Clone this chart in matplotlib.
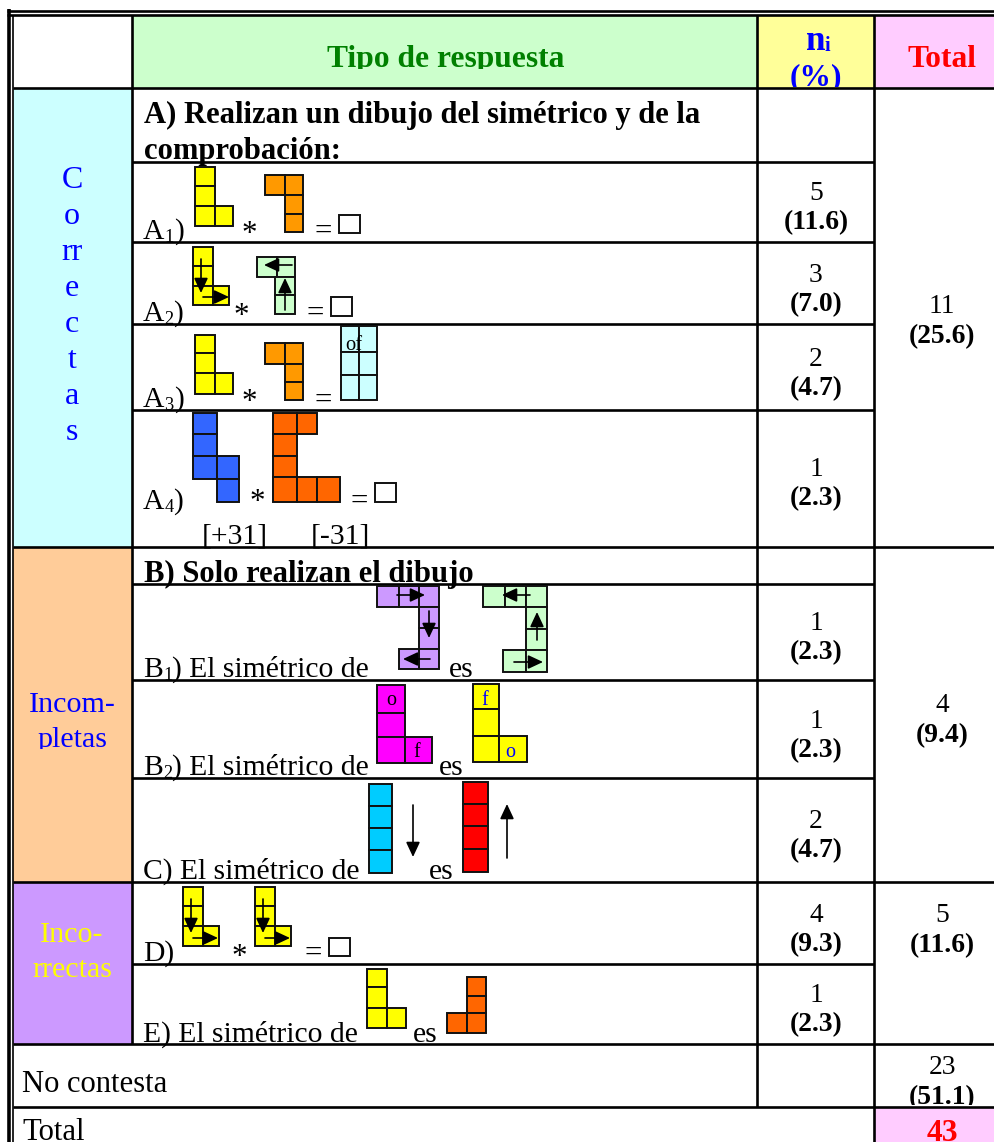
#!/usr/bin/env python3
"""
Tabla de tipos de respuesta (simetricos de piezas) dibujada con matplotlib
"""

import matplotlib
matplotlib.use('Agg')
import matplotlib.pyplot as plt
import matplotlib.patches as patches

plt.rcParams['font.family'] = ['Liberation Serif', 'DejaVu Serif']

# valores de la tabla
header_tipo = 'Tipo de respuesta'
groups = ['Correctas', 'Incom-\npletas', 'Inco-\nrrectas']
ni_values = [5, 3, 2, 1, 1, 1, 2, 4, 1]
ni_pct = [11.6, 7.0, 4.7, 2.3, 2.3, 2.3, 4.7, 9.3, 2.3]
total_values = [11, 4, 5, 23]
total_pct = [25.6, 9.4, 11.6, 51.1]
grand_total = 43

# baselines (pixeles) de cada fila de numeros
ni_base = [200, 282, 366, 476, 630, 728, 828, 922, 1002]
total_base = [313, 712, 922, 1074]

# formas de las piezas: (columna, fila)
L_UP = [(0, 0), (0, 1), (0, 2), (1, 2)]
J_TOP = [(0, 0), (1, 0), (1, 1), (1, 2)]
J_BOTTOM = [(1, 0), (1, 1), (0, 2), (1, 2)]
BAR = [(0, 0), (0, 1), (0, 2), (0, 3)]
S_LONG = [(0, 0), (0, 1), (0, 2), (1, 2), (1, 3)]
C_LONG = [(0, 0), (1, 0), (0, 1), (0, 2), (0, 3), (1, 3), (2, 3)]
C_TOP = [(0, 0), (1, 0), (2, 0), (2, 1), (2, 2), (2, 3), (1, 3)]
BLOCK = [(0, 0), (1, 0), (0, 1), (1, 1), (0, 2), (1, 2)]

YELLOW = '#FFFF00'
ORANGE = '#FF9900'
DARK_ORANGE = '#FF6600'
BLUE = '#3366FF'
MAGENTA = '#FF00FF'
SKY = '#00CCFF'
RED = '#FF0000'
LILAC = '#CC99FF'
MINT = '#CCFFCC'
AQUA = '#CCFFFF'
BODY_PX = 29.6
BOLD_PX = 30.7
HEAD_PX = 31.5
NUM_PX = 27.5


def px(size):
    # tamano en pixeles -> puntos (dpi 100)
    return size * 0.72


fig = plt.figure(figsize=(9.95, 11.42), dpi=100)
ax = fig.add_axes([0, 0, 1, 1])
ax.set_xlim(0, 995)
ax.set_ylim(1142, 0)
ax.axis('off')


def fill(x0, y0, x1, y1, color):
    ax.add_patch(patches.Rectangle((x0, y0), x1 - x0, y1 - y0, facecolor=color,
                                   edgecolor='none', zorder=1))


def hline(y, x0, x1, lw=1.9):
    ax.plot([x0, x1], [y, y], color='black', lw=lw, solid_capstyle='butt', zorder=2)


def vline(x, y0, y1, lw=1.9):
    ax.plot([x, x], [y0, y1], color='black', lw=lw, solid_capstyle='butt', zorder=2)


def text(x, y, s, size=BODY_PX, color='black', bold=False, ha='left', clip=None):
    t = ax.text(x, y, s, fontsize=px(size), color=color, ha=ha, va='baseline',
                fontweight='bold' if bold else 'normal', zorder=6)
    if clip:
        x0, y0, x1, y1 = clip
        t.set_clip_on(True)
        t.set_clip_path(patches.Rectangle((x0, y0), x1 - x0, y1 - y0,
                                          transform=ax.transData))
    return t


def label(x, y, first, sub, rest):
    # texto con subindice, p.ej. A1)
    r = fig.canvas.get_renderer()
    t = text(x, y, first)
    x += t.get_window_extent(r).width
    t = text(x, y + 3, sub, size=BODY_PX * 0.62)
    x += t.get_window_extent(r).width
    text(x, y, rest)


def piece(xs, ys, cells, color):
    for c, r in cells:
        ax.add_patch(patches.Rectangle((xs[c], ys[r]), xs[c + 1] - xs[c], ys[r + 1] - ys[r],
                                       facecolor=color, edgecolor='#111111', lw=1.4, zorder=3))


def arrow(x0, y0, x1, y1):
    ax.add_patch(patches.FancyArrowPatch((x0, y0), (x1, y1),
                                         arrowstyle='-|>,head_length=0.9,head_width=0.42',
                                         mutation_scale=10, shrinkA=0, shrinkB=0,
                                         color='black', lw=1.2, zorder=5))


def equals_box(x_eq, y_eq, box):
    # signo igual y cuadradito vacio
    text(x_eq, y_eq, '=', size=31)
    x0, y0, x1, y1 = box
    ax.add_patch(patches.Rectangle((x0, y0), x1 - x0, y1 - y0, facecolor='white',
                                   edgecolor='#111111', lw=1.4, zorder=3))


def star(x, y):
    text(x, y, '*', size=31, ha='center')


# fondos
fill(13, 15, 132, 88, 'white')
fill(132, 15, 757, 88, MINT)
fill(757, 15, 874, 88, '#FFFF99')
fill(874, 15, 995, 88, '#FFCCFF')
fill(13, 88, 132, 547, AQUA)
fill(13, 547, 132, 882, '#FFCC99')
fill(13, 882, 132, 1044, LILAC)
fill(874, 1107, 995, 1142, '#FFCCFF')

# lineas de la tabla
hline(10.5, 7, 995)
hline(15, 7, 995)
vline(9, 9, 1142, lw=2.6)
vline(12.7, 15, 1142, lw=1.2)
vline(132, 15, 1044)
vline(757, 15, 1107)
vline(874, 15, 1142)
for y in [88, 547, 882, 1044, 1107]:
    hline(y, 13, 995)
for y in [162, 242, 324, 410, 584, 680, 778, 964]:
    hline(y, 132, 874)

# cabecera
text(446, 67, header_tipo, size=HEAD_PX, color='#008000', bold=True, ha='center',
     clip=(132, 15, 757, 68.5))
text(806, 50, 'n', size=35, color='#0000FF', bold=True)
text(825, 51, 'i', size=20, color='#0000FF', bold=True)
text(816, 85, '(%)', size=HEAD_PX, color='#0000FF', bold=True, ha='center',
     clip=(757, 15, 874, 87))
text(942, 67, 'Total', size=HEAD_PX, color='#FF0000', bold=True, ha='center',
     clip=(874, 15, 995, 68.5))

# primera columna
for letter, y in zip(['C', 'o', 'rr', 'e', 'c', 't', 'a', 's'],
                     [188, 224, 260, 296, 332, 368, 404, 440]):
    text(72, y, letter, size=32, color='#0000FF', ha='center')
inc = groups[1].split('\n')
text(72, 712, inc[0], size=30, color='#0000FF', ha='center')
text(72, 747, inc[1], size=30, color='#0000FF', ha='center', clip=(13, 547, 132, 748.5))
wrong = groups[2].split('\n')
text(72, 942, wrong[0], size=30, color='#FFFF00', ha='center')
text(72, 977, wrong[1], size=30, color='#FFFF00', ha='center')

# columna de numeros
for v, p, y in zip(ni_values, ni_pct, ni_base):
    text(816, y, str(v), size=NUM_PX, ha='center')
    text(816, y + 29.5, '(%.1f)' % p, size=NUM_PX, bold=True, ha='center')
for v, p, y in zip(total_values, total_pct, total_base):
    text(942, y, str(v), size=NUM_PX, ha='center')
    text(942, y + 30, '(%.1f)' % p, size=NUM_PX, bold=True, ha='center', clip=(874, 15, 995, 1105))
text(942, 1141, str(grand_total), size=HEAD_PX, color='#FF0000', bold=True, ha='center',
     clip=(874, 1107, 995, 1142))

# fila A
text(144, 123, 'A) Realizan un dibujo del simétrico y de la', size=BOLD_PX, bold=True)
text(144, 159, 'comprobación:', size=BOLD_PX, bold=True)

# A1
label(143, 239, 'A', '1', ')')
piece([195, 215, 233], [167, 186, 206, 226], L_UP, YELLOW)
star(249, 242)
piece([265, 285, 303], [175, 195, 214, 232], J_TOP, ORANGE)
equals_box(314, 240, (339, 215, 360, 233))

# A2
label(143, 321, 'A', '2', ')')
piece([193, 213, 229], [247, 266, 286, 305], L_UP, YELLOW)
arrow(201, 259, 201, 293)
arrow(203, 297, 229, 297)
star(241, 324)
piece([257, 277, 295], [257, 277], [(0, 0), (1, 0)], MINT)
piece([275, 295], [277, 295, 314], [(0, 0), (0, 1)], MINT)
arrow(292, 265, 264, 265)
arrow(285, 310, 285, 278)
equals_box(306, 322, (331, 297, 352, 316))

# A3
label(143, 407, 'A', '3', ')')
piece([195, 215, 233], [335, 353, 373, 394], L_UP, YELLOW)
star(249, 410)
piece([265, 285, 303], [343, 364, 382, 400], J_TOP, ORANGE)
piece([341, 359, 377], [326, 352, 375, 400], BLOCK, AQUA)
text(345, 350, 'of', size=20.5)
text(314, 409, '=', size=31)

# A4
label(143, 509, 'A', '4', ')')
piece([193, 217, 239], [413, 434, 456, 479, 502], S_LONG, BLUE)
star(257, 510)
piece([273, 297, 317, 340], [413, 434, 456, 477, 502], C_LONG, DARK_ORANGE)
equals_box(350, 510, (375, 483, 396, 502))
text(202, 543, '[+31]')
text(311, 543, '[-31]')

# fila B
text(144, 582, 'B) Solo realizan el dibujo', size=BOLD_PX, bold=True)

# B1
label(143, 677, 'B', '1', ') El simétrico de')
piece([377, 399, 419, 439], [586, 607, 628, 649, 669], C_TOP, LILAC)
arrow(397, 595, 425, 595)
arrow(429, 611, 429, 638)
arrow(430, 659, 403, 659)
text(449, 677, 'es')
piece([483, 505, 526, 547], [586, 607], [(0, 0), (1, 0), (2, 0)], MINT)
piece([526, 547], [607, 629, 650], [(0, 0), (0, 1)], MINT)
piece([503, 526, 547], [650, 672], [(0, 0), (1, 0)], MINT)
arrow(530, 595, 502, 595)
arrow(537, 640, 537, 612)
arrow(514, 662, 543, 662)

# B2
label(143, 775, 'B', '2', ') El simétrico de')
piece([377, 405, 432], [685, 713, 737, 763], L_UP, MAGENTA)
text(391, 705, 'o', size=20, ha='center')
text(417, 757, 'f', size=20, ha='center')
text(439, 775, 'es')
piece([473, 499, 527], [684, 709, 736, 762], L_UP, YELLOW)
text(485, 705, 'f', size=20, color='#0000FF', ha='center')
text(510, 757, 'o', size=20, color='#0000FF', ha='center')

# C
text(143, 879, 'C) El simétrico de')
piece([369, 392], [784, 806, 828, 850, 873], BAR, SKY)
arrow(413, 805, 413, 857)
text(429, 879, 'es')
piece([463, 488], [782, 804, 826, 849, 872], BAR, RED)
arrow(507, 858, 507, 804)

# D
text(143, 961, 'D)')
for off in [0, 72]:
    piece([183 + off, 203 + off, 219 + off], [887, 906, 926, 946], L_UP, YELLOW)
    arrow(191 + off, 899, 191 + off, 933)
    arrow(193 + off, 938, 218 + off, 938)
star(239, 965)
equals_box(304, 962, (329, 938, 350, 956))

# E
text(143, 1042, 'E) El simétrico de')
piece([367, 387, 406], [969, 987, 1008, 1028], L_UP, YELLOW)
text(413, 1042, 'es')
piece([447, 467, 486], [977, 996, 1013, 1033], J_BOTTOM, DARK_ORANGE)

# pie
text(22, 1092, 'No contesta', size=30.7)
text(22, 1140, 'Total', size=30.7, clip=(13, 1107, 874, 1142))

fig.savefig('out.png', dpi=100)
plt.close()
